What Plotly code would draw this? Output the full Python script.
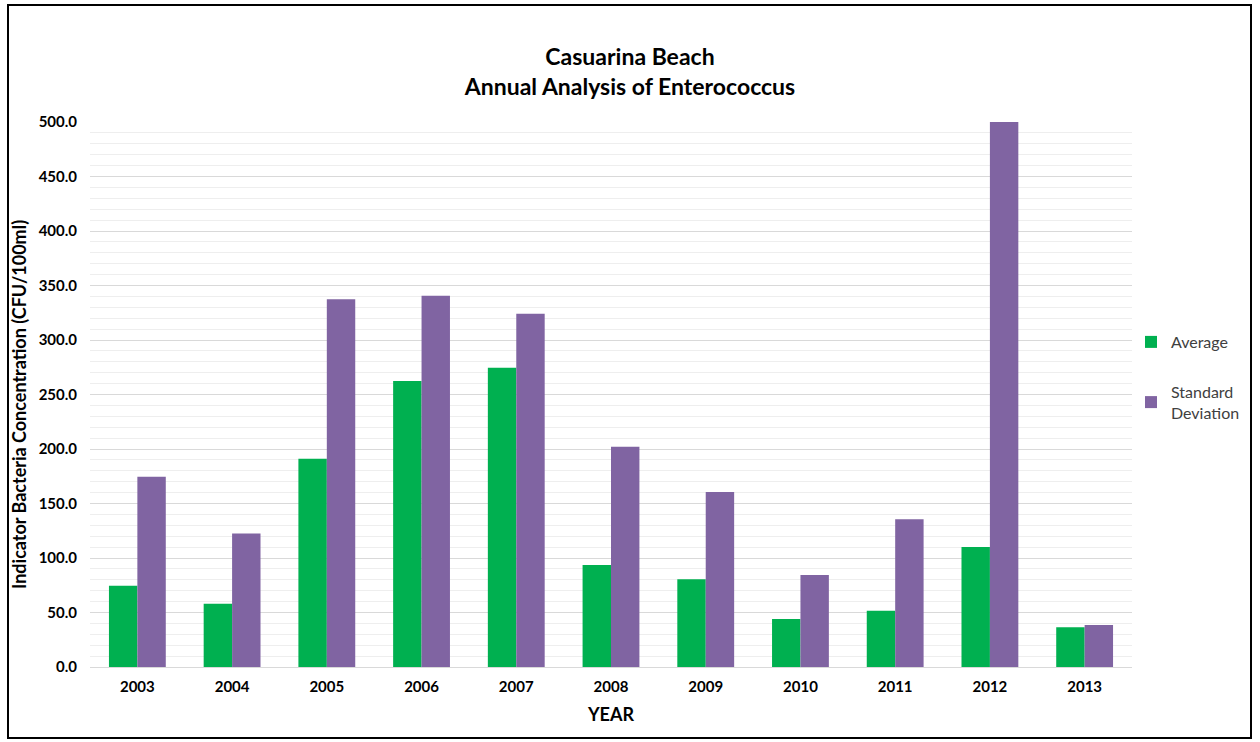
import plotly.graph_objects as go

years = ["2003", "2004", "2005", "2006", "2007", "2008", "2009", "2010", "2011", "2012", "2013"]
average = [74.5, 58.0, 191.0, 262.5, 274.5, 93.5, 80.5, 44.0, 51.5, 110.0, 36.5]
std_dev = [174.5, 122.5, 337.5, 340.5, 324.0, 202.0, 160.5, 84.5, 135.5, 500.0, 38.5]

FONT = "Lato, 'Open Sans', sans-serif"

fig = go.Figure()
fig.add_trace(go.Bar(x=years, y=average, name="Average", marker_color="#00b050",
                     marker_line_width=0, legendgroup="a"))
fig.add_trace(go.Bar(x=years, y=std_dev, name="Standard<br>Deviation", marker_color="#8064a2",
                     marker_line_width=0, legendgroup="b"))

L, R, T, B = 90, 128, 122, 75
W, H = 1260, 742
pw, ph = W - L - R, H - T - B

def px_x(x):
    return (x - L) / pw

def px_y(y):
    return (H - B - y) / ph

fig.update_layout(
    width=W, height=H,
    margin=dict(l=L, r=R, t=T, b=B, autoexpand=False),
    paper_bgcolor="white", plot_bgcolor="white",
    barmode="group", bargap=0.4, bargroupgap=0,
    font=dict(family=FONT, color="#000000"),
    title=dict(
        text="<b>Casuarina Beach<br>Annual Analysis of Enterococcus</b>",
        x=0.5, xanchor="center", y=1 - 65 / H, yanchor="middle",
        font=dict(size=23, family=FONT),
    ),
    legend=dict(
        xref="container", yref="container",
        x=1131 / W, y=1 - 325 / H, xanchor="left", yanchor="top",
        font=dict(size=16, family=FONT, color="#404040"),
        tracegroupgap=26, itemwidth=30,
        bgcolor="rgba(0,0,0,0)",
    ),
    xaxis=dict(
        automargin=False,
        title=dict(text="<b>YEAR</b>", font=dict(size=18), standoff=14),
        tickfont=dict(size=15),
        tickprefix="<b>", ticksuffix="</b>",
        ticks="outside", ticklen=6, tickcolor="rgba(0,0,0,0)",
        showline=True, linecolor="#d9d9d9", linewidth=1,
        showgrid=False,
    ),
    yaxis=dict(
        automargin=False,
        range=[0, 500], dtick=50, tickformat=".1f",
        tickprefix="<b>", ticksuffix="</b>",
        tickfont=dict(size=15),
        ticks="outside", ticklen=9, tickcolor="rgba(0,0,0,0)",
        showgrid=True, gridcolor="#d9d9d9", gridwidth=1,
        minor=dict(dtick=10, showgrid=True, gridcolor="#eeeeee", gridwidth=1),
        zeroline=False,
    ),
    annotations=[dict(
        text="<b>Indicator Bacteria Concentration (CFU/100ml)</b>",
        xref="paper", yref="paper", x=px_x(19), y=px_y(405),
        xanchor="center", yanchor="middle", textangle=-90, showarrow=False,
        font=dict(size=18, family=FONT, color="#000000"),
    )],
    shapes=[dict(
        type="rect", xref="paper", yref="paper",
        x0=px_x(8), x1=px_x(1251), y0=px_y(738), y1=px_y(5),
        line=dict(color="black", width=2), fillcolor="rgba(0,0,0,0)", layer="above",
    )],
)

fig.write_html("out.html")
